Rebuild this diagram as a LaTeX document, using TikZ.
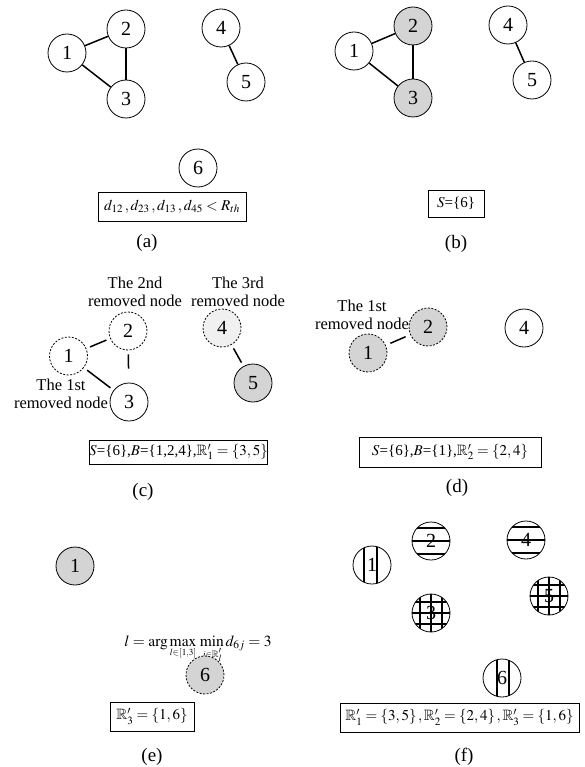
\documentclass[tikz,border=0pt]{standalone}
\usepackage{amsmath,amssymb}
\usepackage{mathptmx}
\usepackage{fontspec}
\setmainfont{Liberation Serif}
\begin{document}
\begin{tikzpicture}[x=1pt,y=-1pt,
  nd/.style={circle, draw, line width=0.8pt, minimum size=38pt, inner sep=0pt, font=\fontsize{20}{20}\selectfont},
  shd/.style={fill=black!17},
  lshd/.style={fill=black!6},
  dsh/.style={dash pattern=on 2pt off 1.5pt},
  edge/.style={line width=1.5pt},
  edgec/.style={line width=1.5pt, shorten <=4pt, shorten >=4pt},
  lbl/.style={align=center, font=\fontsize{16.5}{18}\selectfont},
  captxt/.style={font=\fontsize{19}{20}\selectfont},
  bx/.style={draw, line width=0.7pt, inner sep=0pt, font=\fontsize{15}{16}\selectfont},
  hl/.style={line width=1.3pt},
  hhatch/.style={path picture={
     \foreach \d in {-13,0,13}
       \draw[hl] ([yshift=\d pt]path picture bounding box.west) -- ([yshift=\d pt]path picture bounding box.east);}},
  vhatch/.style n args={2}{path picture={
     \draw[hl] ([xshift=#1 pt]path picture bounding box.north) -- ([xshift=#1 pt]path picture bounding box.south);
     \draw[hl] ([xshift=#2 pt]path picture bounding box.north) -- ([xshift=#2 pt]path picture bounding box.south);}},
  ghatch/.style={path picture={
     \foreach \d in {-11,0,11}{
       \draw[hl] ([yshift=\d pt]path picture bounding box.west) -- ([yshift=\d pt]path picture bounding box.east);
       \draw[hl] ([xshift=\d pt]path picture bounding box.north) -- ([xshift=\d pt]path picture bounding box.south);}}}
]
\useasboundingbox (0,0) rectangle (585,767);

% ---------- (a)
\node[nd] (a1) at (67,53) {1};
\node[nd] (a2) at (126,29) {2};
\node[nd] (a3) at (126,99) {3};
\node[nd] (a4) at (221,28) {4};
\node[nd] (a5) at (246,82) {5};
\node[nd] (a6) at (198,168) {6};
\draw[edge] (a1) -- (a2);
\draw[edge] (a2) -- (a3);
\draw[edge] (a1) -- (a3);
\draw[edge] (a4) -- (a5);
\node[bx, minimum width=148pt, minimum height=29pt] (abox) at (172,206.5) {$d_{12}\,,d_{23}\,,d_{13}\,,d_{45}<R_{th}$};
\node[captxt] (acap) at (147,243) {(a)};

% ---------- (b)
\node[nd] (b1) at (354,51) {1};
\node[nd, shd] (b2) at (413,26) {2};
\node[nd, shd] (b3) at (413,98) {3};
\node[nd] (b4) at (508,25) {4};
\node[nd] (b5) at (532,80) {5};
\draw[edge] (b1) -- (b2);
\draw[edge] (b2) -- (b3);
\draw[edge] (b1) -- (b3);
\draw[edge] (b4) -- (b5);
\node[bx, minimum width=56pt, minimum height=27pt] (bbox) at (456,203.5) {$S$=\{6\}};
\node[captxt] (bcap) at (456,244) {(b)};

% ---------- (c)
\node[nd, dsh] (c1) at (68.5,356) {1};
\node[nd, dsh] (c2) at (128,331) {2};
\node[nd] (c3) at (129,402) {3};
\node[nd, dsh, lshd] (c4) at (222,328) {4};
\node[nd, shd] (c5) at (253,383) {5};
\draw[edgec] (c1) -- (c2);
\draw[edgec, shorten >=14pt] (c2) -- (c3);
\draw[edgec] (c1) -- (c3);
\draw[edgec] (c4) -- (c5);
\node[lbl] (l2) at (135,292) {The 2nd\\removed node};
\node[lbl] (l3) at (238,292) {The 3rd\\removed node};
\node[lbl] (l1) at (61,394) {The 1st\\removed node};
\node[bx, minimum width=169pt, minimum height=24pt] (cbox) at (178.5,452) {$S$=\{6\},$B$=\{1,2,4\},$\mathbb{R}_1'=\{3,5\}$};
\node[captxt] (ccap) at (143,492) {(c)};

% ---------- (d)
\node[nd, dsh, shd] (d1) at (368,353) {1};
\node[nd, dsh, shd] (d2) at (428,327) {2};
\node[nd] (d4) at (524,328) {4};
\draw[edge, shorten <=5pt, shorten >=5pt] (d1) -- (d2);
\node[lbl] (ld) at (362,315) {The 1st\\removed node};
\node[bx, minimum width=182pt, minimum height=30pt] (dbox) at (450,452) {$S$=\{6\},$B$=\{1\},$\mathbb{R}_2'=\{2,4\}$};
\node[captxt] (dcap) at (457,488) {(d)};

% ---------- (e)
\node[nd, shd] (e1) at (75,566) {1};
\node[anchor=base, font=\fontsize{15.5}{16}\selectfont, inner sep=0pt] (eq) at (198,646)
  {$l=\arg\max\limits_{\scriptscriptstyle l\in[1,3]}\,\min\limits_{\scriptscriptstyle j\in\mathbb{R}_l'} d_{6j}=3$};
\node[nd, dsh, shd] (e6) at (205,675) {6};
\node[bx, minimum width=84pt, minimum height=29pt] (ebox) at (152,716.5) {$\mathbb{R}_3'=\{1,6\}$};
\node[captxt] (ecap) at (152,757) {(e)};

% ---------- (f)
\node[nd, vhatch={-8}{5}] (f1) at (372,565) {1};
\node[nd, hhatch] (f2) at (431,541) {2};
\node[nd, hhatch] (f4) at (526,540) {4};
\node[nd, ghatch] (f5) at (549,596) {5};
\node[nd, ghatch] (f3) at (431,613) {3};
\node[nd, vhatch={-5}{7}] (f6) at (502,678) {6};
\node[bx, minimum width=239pt, minimum height=29pt] (fbox) at (459.5,717.5) {$\mathbb{R}_1'=\{3,5\}\,,\mathbb{R}_2'=\{2,4\}\,,\mathbb{R}_3'=\{1,6\}$};
\node[captxt] (fcap) at (464,757) {(f)};
\end{tikzpicture}
\end{document}
